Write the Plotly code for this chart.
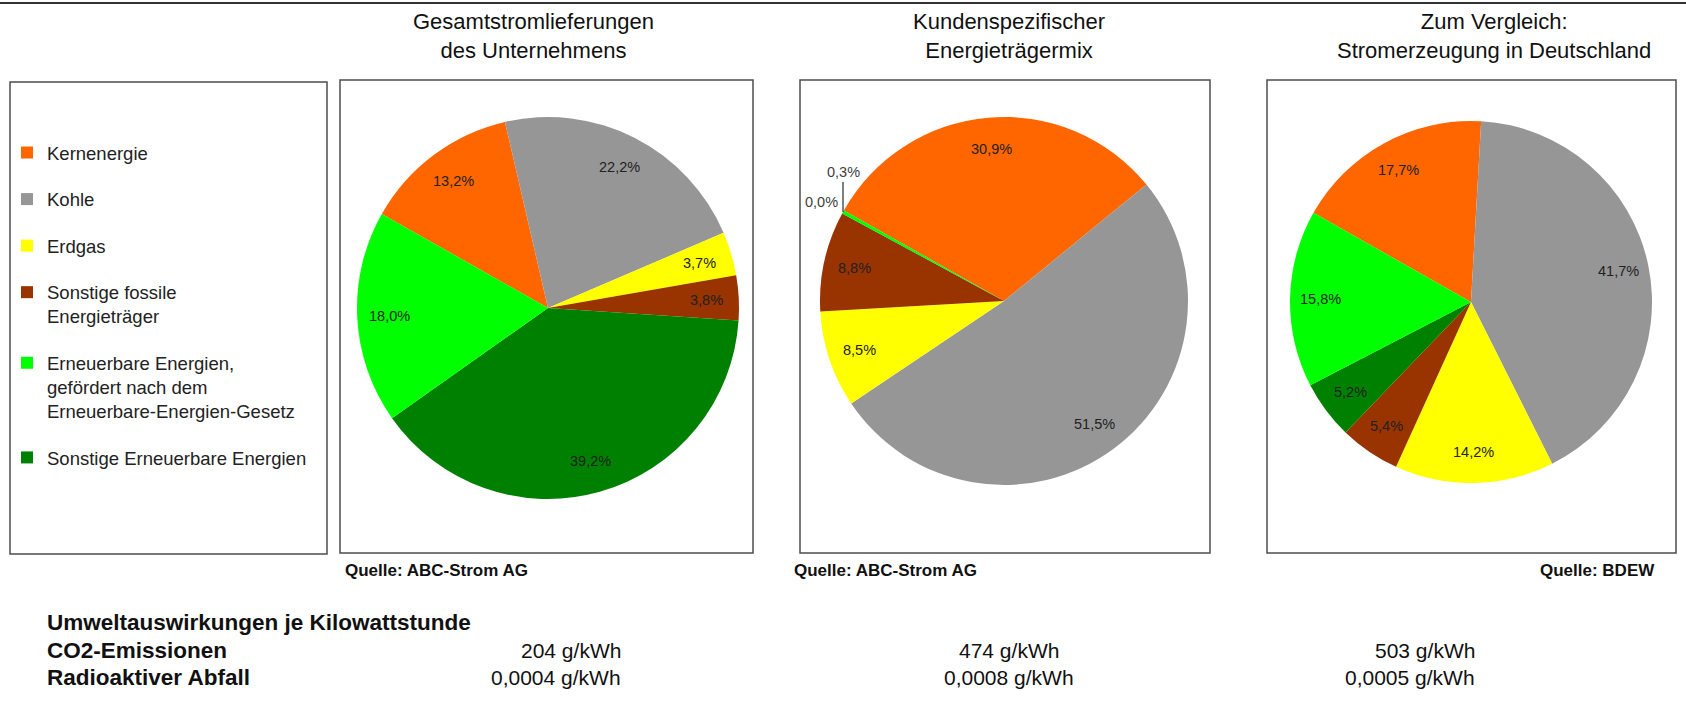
import plotly.graph_objects as go
import math

W, H = 1686, 726
FONT = "Liberation Sans, Arial, sans-serif"

# ---------------- data ----------------
slice_order = ["Kernenergie", "Kohle", "Erdgas", "Sonstige fossile Energieträger",
               "Sonstige Erneuerbare Energien",
               "Erneuerbare Energien, gefördert nach dem Erneuerbare-Energien-Gesetz"]
slice_colors = ["#FF6600", "#969696", "#FFFF00", "#993300", "#008000", "#00FF00"]

pie_gesamt = [13.2, 22.2, 3.7, 3.8, 39.2, 18.0]
pie_kunde = [30.9, 51.5, 8.5, 8.8, 0.0, 0.3]
pie_deutschland = [17.7, 41.7, 14.2, 5.4, 5.2, 15.8]

pie_titles = ["Gesamtstromlieferungen<br>des Unternehmens",
              "Kundenspezifischer<br>Energieträgermix",
              "Zum Vergleich:<br>Stromerzeugung in Deutschland"]
pie_sources = ["Quelle: ABC-Strom AG", "Quelle: ABC-Strom AG", "Quelle: BDEW"]

legend_labels = ["Kernenergie", "Kohle", "Erdgas",
                 "Sonstige fossile<br>Energieträger",
                 "Erneuerbare Energien,<br>gefördert nach dem<br>Erneuerbare-Energien-Gesetz",
                 "Sonstige Erneuerbare Energien"]
legend_colors = ["#FF6600", "#969696", "#FFFF00", "#993300", "#00FF00", "#008000"]

impact_header = "Umweltauswirkungen je Kilowattstunde"
impact_rows = ["CO2-Emissionen", "Radioaktiver Abfall"]
co2_values = ["204 g/kWh", "474 g/kWh", "503 g/kWh"]
waste_values = ["0,0004 g/kWh", "0,0008 g/kWh", "0,0005 g/kWh"]

# ---------------- layout geometry (pixels) ----------------
ROT = -60.5
pie_geom = [(548, 308, 191), (1004, 301, 184), (1471, 302, 181)]  # cx, cy, r
boxes = [(340, 80, 753, 553), (800, 80, 1210, 553), (1267, 80, 1676, 553)]
title_x = [533, 1009, 1494]


def px(x):
    return x / W


def py(y):
    return 1 - y / H


fig = go.Figure()
annotations = []
shapes = []

for vals, (cx, cy, r) in zip([pie_gesamt, pie_kunde, pie_deutschland], pie_geom):
    fig.add_trace(go.Pie(
        labels=slice_order, values=vals, sort=False, direction="clockwise",
        rotation=ROT, marker=dict(colors=slice_colors, line=dict(width=0)),
        textinfo="none", showlegend=False, hoverinfo="label+percent",
        domain=dict(x=[px(cx - r), px(cx + r)], y=[py(cy + r), py(cy - r)]),
    ))
    total = sum(vals)
    start = ROT
    tiny = []
    for v in vals:
        sweep = 360 * v / total
        mid = math.radians(start + sweep / 2)
        txt = f"{v:.1f}".replace(".", ",") + "%"
        if v >= 1:
            rr = 0.83 * r
            annotations.append(dict(
                x=px(cx + rr * math.sin(mid)), y=py(cy - rr * math.cos(mid)),
                xref="paper", yref="paper", text=txt, showarrow=False,
                xanchor="center", yanchor="middle",
                font=dict(size=14.5, color="#222222", family=FONT)))
        else:
            tiny.append((v, mid, txt))
        start += sweep
    for v, mid, txt in tiny:
        if v > 0:
            ex, ey = cx + r * math.sin(mid), cy - r * math.cos(mid)
            annotations.append(dict(
                x=px(ex), y=py(ey), xref="paper", yref="paper", text=txt,
                showarrow=True, arrowhead=0, arrowwidth=1, arrowcolor="#000000",
                ax=0, ay=-30, standoff=0, xanchor="center", yanchor="bottom",
                font=dict(size=14.5, color="#404040", family=FONT)))
        else:
            rr = 1.13 * r
            annotations.append(dict(
                x=px(cx + rr * math.sin(mid)), y=py(cy - rr * math.cos(mid)),
                xref="paper", yref="paper", text=txt, showarrow=False,
                xanchor="center", yanchor="middle",
                font=dict(size=14.5, color="#404040", family=FONT)))

# legend entries (dummy traces so that legend order matches the reference)
for name, col in zip(legend_labels, legend_colors):
    fig.add_trace(go.Scatter(x=[None], y=[None], mode="markers", name=name,
                             legendgroup=name,
                             marker=dict(symbol="square", size=11, color=col)))

# frames
shapes.append(dict(type="rect", xref="paper", yref="paper",
                   x0=px(10), x1=px(327), y0=py(554), y1=py(82),
                   line=dict(color="#4d4d4d", width=1.5)))
for (x0, y0, x1, y1) in boxes:
    shapes.append(dict(type="rect", xref="paper", yref="paper",
                       x0=px(x0), x1=px(x1), y0=py(y1), y1=py(y0),
                       line=dict(color="#4d4d4d", width=1.5)))
shapes.append(dict(type="line", xref="paper", yref="paper",
                   x0=0, x1=1, y0=py(3), y1=py(3),
                   line=dict(color="#333333", width=2)))

# titles
for t, tx in zip(pie_titles, title_x):
    annotations.append(dict(x=px(tx), y=py(36), xref="paper", yref="paper",
                            text=t, showarrow=False, align="center",
                            xanchor="center", yanchor="middle",
                            font=dict(size=22, color="#111111", family=FONT)))

# sources
src_pos = [(343, "left"), (792, "left"), (1657, "right")]
for s, (sx, anc) in zip(pie_sources, src_pos):
    annotations.append(dict(x=px(sx), y=py(570), xref="paper", yref="paper",
                            text=f"<b>{s}</b>", showarrow=False,
                            xanchor=anc, yanchor="middle",
                            font=dict(size=17, color="#111111", family=FONT)))

# impact table
annotations.append(dict(x=px(45), y=py(622), xref="paper", yref="paper",
                        text=f"<b>{impact_header}</b>", showarrow=False,
                        xanchor="left", yanchor="middle",
                        font=dict(size=22.5, color="#111111", family=FONT)))
for i, row in enumerate(impact_rows):
    annotations.append(dict(x=px(45), y=py(650 + 27 * i), xref="paper", yref="paper",
                            text=f"<b>{row}</b>", showarrow=False,
                            xanchor="left", yanchor="middle",
                            font=dict(size=22.5, color="#111111", family=FONT)))
col_pos = [(623, "right"), (1009, "center"), (1477, "right")]
for j, (cxp, anc) in enumerate(col_pos):
    for i, vals in enumerate([co2_values, waste_values]):
        annotations.append(dict(x=px(cxp), y=py(650 + 27 * i), xref="paper", yref="paper",
                                text=vals[j], showarrow=False,
                                xanchor=anc, yanchor="middle",
                                font=dict(size=21, color="#111111", family=FONT)))

fig.update_layout(
    width=W, height=H, margin=dict(l=0, r=0, t=0, b=0),
    paper_bgcolor="white", plot_bgcolor="white",
    xaxis=dict(visible=False), yaxis=dict(visible=False),
    showlegend=True,
    legend=dict(x=px(7), y=py(134), xanchor="left", yanchor="top",
                font=dict(size=18.5, color="#222222", family=FONT),
                tracegroupgap=19.5, bgcolor="rgba(0,0,0,0)", itemsizing="constant",
                valign="top"),
    annotations=annotations, shapes=shapes,
    font=dict(family=FONT),
)

fig.write_html("out.html")
